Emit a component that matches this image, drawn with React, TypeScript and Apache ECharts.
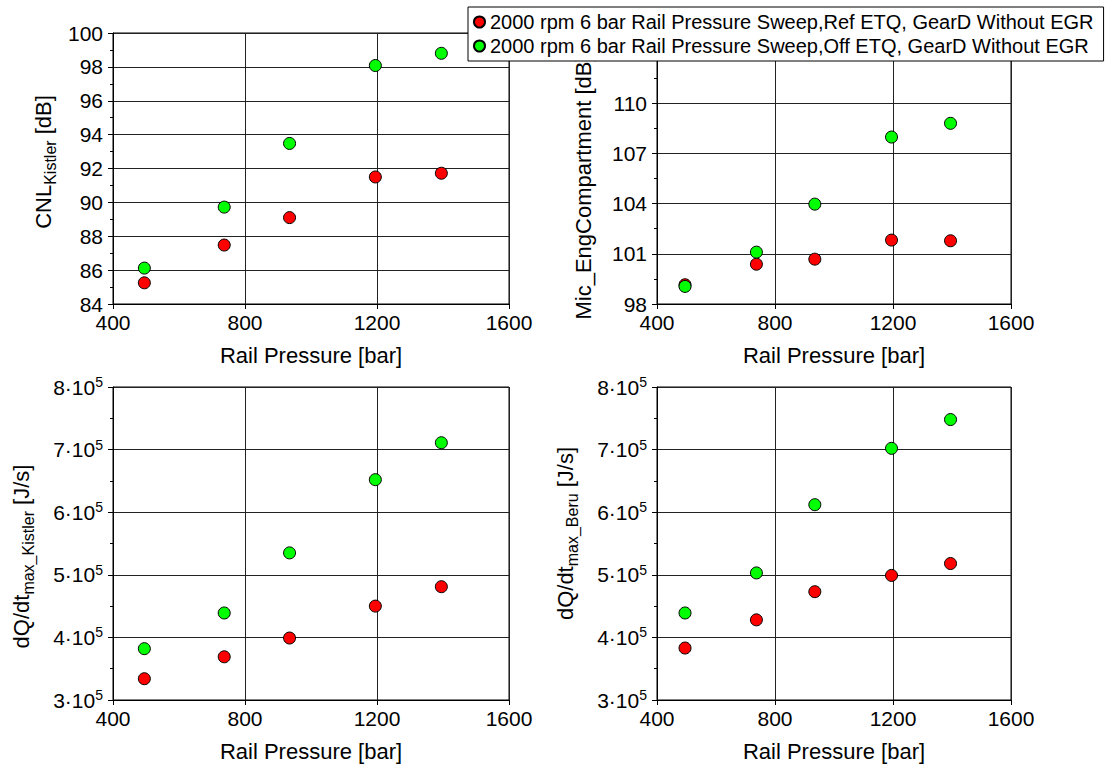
import React, { useEffect, useRef } from "react";
import * as echarts from "echarts";

// ---------- data ----------
const railPressure = [495, 737, 935, 1195, 1395];

const cnlRef = [85.25, 87.48, 89.1, 91.5, 91.72];
const cnlOff = [86.12, 89.72, 93.48, 98.08, 98.8];

const micRef = [99.15, 100.38, 100.68, 101.82, 101.78];
const micOff = [99.05, 101.1, 103.97, 107.98, 108.8];

const dqKistlerRef = [334000, 369000, 399000, 450000, 481000];
const dqKistlerOff = [382000, 439000, 535000, 652000, 711000];

const dqBeruRef = [383000, 428000, 473000, 499000, 518000];
const dqBeruOff = [439000, 503000, 612000, 702000, 748000];

const seriesNames = [
  "2000 rpm 6 bar Rail Pressure Sweep,Ref ETQ, GearD Without EGR",
  "2000 rpm 6 bar Rail Pressure Sweep,Off ETQ, GearD Without EGR",
];
const seriesColors = ["#ff0000", "#00ff00"];

const xTitle = "Rail Pressure [bar]";
const xMin = 400;
const xMax = 1600;
const xStep = 400;

const cnlAxis = { min: 84, max: 100, step: 2 };
const micAxis = { min: 98, max: 114.2, step: 3 };
const dqAxis = { min: 300000, max: 800000, step: 100000 };

// ---------- styles ----------
const FONT = "'Liberation Sans', Arial, Helvetica, sans-serif";
const BLACK = "#000";

const nameRich = {
  a: { fontSize: 22, lineHeight: 24, fontFamily: FONT, color: BLACK },
  s: { fontSize: 16, lineHeight: 16, padding: [15, 0, 0, 0], fontFamily: FONT, color: BLACK },
};
const supRich = {
  a: { fontSize: 21, lineHeight: 24, fontFamily: FONT, color: BLACK },
  s: { fontSize: 14, lineHeight: 14, padding: [0, 0, 10, 0], fontFamily: FONT, color: BLACK },
};

const grids = [
  { left: 113, top: 33, width: 396, height: 271 },
  { left: 657, top: 33, width: 354, height: 271 },
  { left: 113, top: 387, width: 396, height: 313 },
  { left: 657, top: 387, width: 354, height: 313 },
];

function makeX(i: number) {
  return {
    type: "value",
    gridIndex: i,
    min: xMin,
    max: xMax,
    interval: xStep,
    name: xTitle,
    nameLocation: "middle",
    nameGap: 40,
    nameTextStyle: { fontSize: 22, color: BLACK, fontFamily: FONT },
    axisLine: { onZero: false, lineStyle: { color: BLACK, width: 1 } },
    axisTick: { show: true, length: 5, lineStyle: { color: BLACK } },
    axisLabel: {
      fontSize: 21,
      color: BLACK,
      fontFamily: FONT,
      margin: 8,
      formatter: (v: number) => String(v),
    },
    splitLine: { show: true, lineStyle: { color: "#222", width: 1 } },
  };
}

function makeY(i: number, opts: any) {
  return {
    type: "value",
    gridIndex: i,
    min: opts.min,
    max: opts.max,
    interval: opts.step,
    name: opts.name,
    nameLocation: "middle",
    nameGap: opts.nameGap,
    nameTextStyle: {
      fontSize: 22,
      color: BLACK,
      fontFamily: FONT,
      rich: nameRich,
      padding: opts.namePadding || 0,
    },
    axisLine: { onZero: false, lineStyle: { color: BLACK, width: 1 } },
    axisTick: { show: true, length: 5, lineStyle: { color: BLACK } },
    minorTick: { show: true, splitNumber: 2, length: 3, lineStyle: { color: BLACK } },
    axisLabel: {
      fontSize: 21,
      color: BLACK,
      fontFamily: FONT,
      margin: 10,
      showMaxLabel: opts.showMaxLabel !== false,
      formatter: opts.formatter || ((v: number) => String(v)),
      rich: opts.rich,
    },
    splitLine: { show: true, lineStyle: { color: "#222", width: 1 } },
  };
}

const supFormatter = (v: number) => `{a|${Math.round(v / 100000)}·10}{s|5}`;

function pairs(ys: number[], offset = 0) {
  return railPressure.map((x, k) => [x, ys[k] - offset]);
}

export default function App() {
  const ref = useRef<HTMLDivElement>(null);

  useEffect(() => {
    document.body.style.margin = "0";
    if (!ref.current) return;
    const chart = echarts.init(ref.current, null, { renderer: "svg" });

    const panelData = [
      [cnlRef, cnlOff, 0],
      [micRef, micOff, micAxis.min],
      [dqKistlerRef, dqKistlerOff, 0],
      [dqBeruRef, dqBeruOff, 0],
    ] as [number[], number[], number][];

    const series: any[] = [];
    panelData.forEach(([ref1, off1, offset], i) => {
      [ref1, off1].forEach((ys, s) => {
        series.push({
          type: "scatter",
          name: seriesNames[s],
          xAxisIndex: i,
          yAxisIndex: i,
          data: pairs(ys, offset),
          symbol: "circle",
          symbolSize: 12,
          itemStyle: { color: seriesColors[s], borderColor: BLACK, borderWidth: 1, opacity: 1 },
          z: 2 + s,
        });
      });
    });

    chart.setOption({
      animation: false,
      backgroundColor: "#fff",
      textStyle: { fontFamily: FONT },
      grid: grids.map((g) => ({
        ...g,
        show: true,
        borderColor: BLACK,
        borderWidth: 1,
        backgroundColor: "transparent",
        containLabel: false,
      })),
      legend: {
        show: true,
        data: seriesNames,
        orient: "vertical",
        left: 468,
        top: 7,
        padding: [5, 10, 5, 5],
        itemGap: 4,
        itemWidth: 11,
        itemHeight: 11,
        icon: "circle",
        backgroundColor: "#fff",
        borderColor: BLACK,
        borderWidth: 1,
        borderRadius: 0,
        textStyle: { fontSize: 20, color: BLACK, fontFamily: FONT },
        selectedMode: false,
        z: 10,
      },
      xAxis: [0, 1, 2, 3].map(makeX),
      yAxis: [
        makeY(0, {
          min: cnlAxis.min,
          max: cnlAxis.max,
          step: cnlAxis.step,
          name: "{a|CNL}{s|Kistler}{a| [dB]}",
          nameGap: 58,
          namePadding: [0, 0, 0, 13],
        }),
        makeY(1, {
          min: 0,
          max: micAxis.max - micAxis.min,
          step: micAxis.step,
          name: "{a|Mic_EngCompartment [dB]}",
          nameGap: 62,
          namePadding: [0, 38, 0, 0],
          showMaxLabel: false,
          formatter: (v: number) => String(Math.round(v + micAxis.min)),
        }),
        makeY(2, {
          min: dqAxis.min,
          max: dqAxis.max,
          step: dqAxis.step,
          name: "{a|dQ/dt}{s|max_Kistler}{a| [J/s]}",
          nameGap: 80,
          namePadding: [0, 26, 0, 0],
          formatter: supFormatter,
          rich: supRich,
        }),
        makeY(3, {
          min: dqAxis.min,
          max: dqAxis.max,
          step: dqAxis.step,
          name: "{a|dQ/dt}{s|max_Beru}{a| [J/s]}",
          nameGap: 80,
          namePadding: [0, 0, 0, 20],
          formatter: supFormatter,
          rich: supRich,
        }),
      ],
      series,
    });

    return () => {
      chart.dispose();
    };
  }, []);

  return <div ref={ref} style={{ width: 1110, height: 769 }} />;
}
